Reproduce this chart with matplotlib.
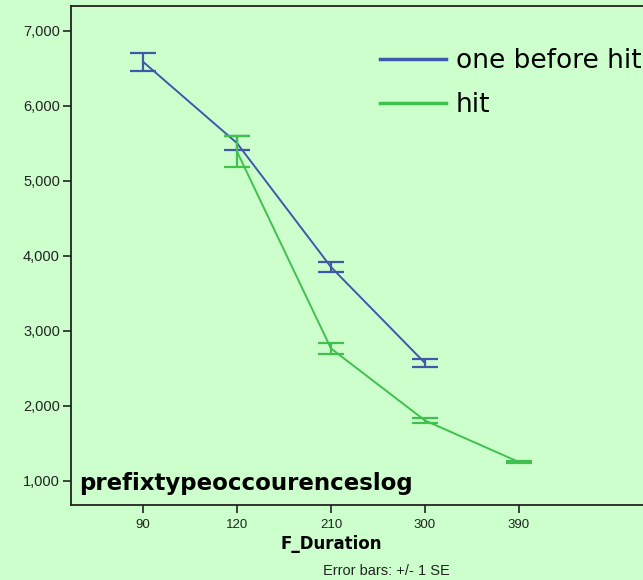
import matplotlib.pyplot as plt
import numpy as np

# =============================================================================
# Data
# =============================================================================
durations = ["90", "120", "210", "300", "390"]
before_mean = [6590, 5505, 3853, 2573]
before_se = [120, 95, 67, 54]
hit_mean = [5393, 2767, 1807, 1253]
hit_se = [207, 74, 34, 14]
hit_pos = [1, 2, 3, 4]
before_pos = [0, 1, 2, 3]
y_ticks = [1000, 2000, 3000, 4000, 5000, 6000, 7000]

bg = "#ccffcc"
blue = "#3e58ac"
green = "#40c04e"

# =============================================================================
# Plot
# =============================================================================
fig = plt.figure(figsize=(6.43, 5.8), dpi=100)
fig.patch.set_facecolor(bg)
ax = fig.add_axes([71 / 643, 75 / 580, 1 - 71 / 643, 499 / 580])
ax.set_facecolor(bg)

ax.errorbar(before_pos, before_mean, yerr=before_se, color=blue, lw=1.4,
            capsize=9.5, capthick=1.6, elinewidth=1.6, label="one before hit",
            zorder=3)
ax.errorbar(hit_pos, hit_mean, yerr=hit_se, color=green, lw=1.4,
            capsize=9.5, capthick=1.6, elinewidth=1.6, label="hit", zorder=4)

ax.set_xlim(-0.766, 5.32)
ax.set_ylim(680, 7333)
ax.set_xticks(np.arange(len(durations)))
ax.set_xticklabels(durations, fontfamily="Liberation Sans", fontsize=9.5)
ax.set_yticks(y_ticks)
ax.set_yticklabels([f"{v:,}" for v in y_ticks], fontfamily="Liberation Sans",
                   fontsize=10.5)
ax.tick_params(axis="both", direction="out", length=6, width=1.2,
               colors="#222222")
ax.tick_params(axis="y", pad=2)
ax.tick_params(axis="x", pad=4)
ax.spines["right"].set_visible(False)
for side in ["left", "bottom", "top"]:
    ax.spines[side].set_linewidth(1.3)
    ax.spines[side].set_color("#222222")

ax.set_xlabel("F_Duration", fontsize=12, fontweight="bold")
ax.xaxis.set_label_coords(2, -0.06, transform=ax.get_xaxis_transform())
ax.text(0.014, 0.03, "prefixtypeoccourenceslog", transform=ax.transAxes,
        fontsize=16.5, fontweight="bold", color="black")
fig.text(386 / 643, 0.003, "Error bars: +/- 1 SE", fontsize=10.5,
         fontfamily="Liberation Sans", ha="center", va="bottom",
         color="#222222")

# legend with plain line handles (no error bar glyphs)
handles, labels = ax.get_legend_handles_labels()
leg_lines = [plt.Line2D([], [], color=h[0].get_color(), lw=2.5)
             for h in handles]
leg = ax.legend(leg_lines, labels, loc="upper left",
                bbox_to_anchor=(0.541, 0.916), frameon=False,
                fontsize=19, handlelength=2.5, handletextpad=0.35,
                labelspacing=0.7, borderaxespad=0, borderpad=0)

fig.savefig("out.png", dpi=100, facecolor=bg)
